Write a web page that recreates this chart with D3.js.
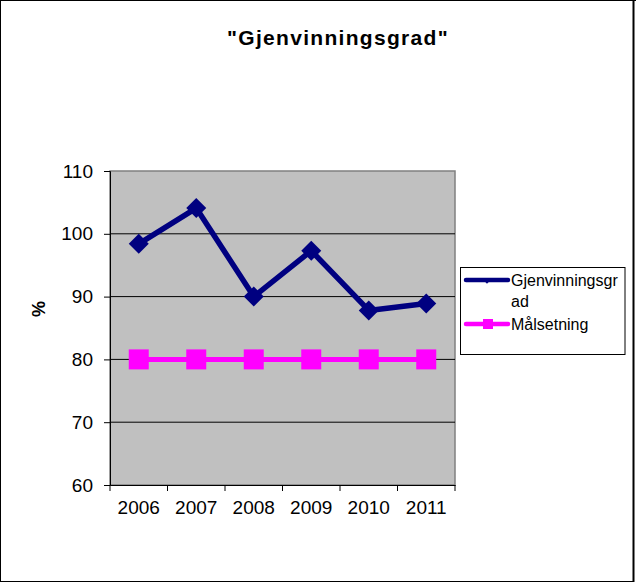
<!DOCTYPE html>
<html><head><meta charset="utf-8">
<script src="https://cdn.jsdelivr.net/npm/d3@7"></script>
<style>body{margin:0;background:#fff}svg{display:block}</style>
</head><body>
<script>
const categories = ["2006","2007","2008","2009","2010","2011"];
const gjenvinning = [98.4, 104.1, 90.0, 97.3, 87.8, 88.9];
const maal = [80, 80, 80, 80, 80, 80];
const yTicks = [60, 70, 80, 90, 100, 110];
const seriesNames = ["Gjenvinningsgrad", "Målsetning"];
const title = "\"Gjenvinningsgrad\"";
const yLabel = "%";

const W = 636, H = 582;
const font = "Arial, 'Liberation Sans', sans-serif";
const svg = d3.select("body").append("svg").attr("width", W).attr("height", H);
svg.append("rect").attr("width",W).attr("height",H).attr("fill","#fff");
// outer frame
svg.append("line").attr("x1",0).attr("x2",W).attr("y1",0.5).attr("y2",0.5).attr("stroke","#000");
svg.append("line").attr("x1",0.5).attr("x2",0.5).attr("y1",0).attr("y2",H).attr("stroke","#000");
svg.append("line").attr("x1",633.5).attr("x2",633.5).attr("y1",0).attr("y2",H).attr("stroke","#000").attr("stroke-width",2);
svg.append("line").attr("x1",0).attr("x2",634).attr("y1",581.5).attr("y2",581.5).attr("stroke","#000");

const L = 110, R = 455, T = 171, B = 485;
const x = d3.scaleBand().domain(categories).range([L, R]).padding(0);
const y = d3.scaleLinear().domain([60, 110]).range([B, T]);

svg.append("rect").attr("x", L).attr("y", T).attr("width", R-L).attr("height", B-T)
  .attr("fill", "#c0c0c0").attr("stroke", "#808080").attr("stroke-width", 1.5);

// gridlines
svg.append("g").selectAll("line").data(yTicks.filter(t => t > 60 && t < 110)).join("line")
  .attr("x1", L).attr("x2", R).attr("y1", d => y(d)).attr("y2", d => y(d))
  .attr("stroke", "#000").attr("stroke-width", 1);

// y axis
const yAxis = svg.append("g").attr("transform", `translate(${L},0)`)
  .call(d3.axisLeft(y).tickValues(yTicks).tickSize(6).tickPadding(11));
yAxis.select(".domain").attr("stroke","#000");
yAxis.selectAll("text").attr("font-family", font).attr("font-size", 19).attr("fill","#000");

// x axis
const xAxis = svg.append("g").attr("transform", `translate(0,${B})`)
  .call(d3.axisBottom(x).tickSize(0).tickPadding(16));
xAxis.select(".domain").attr("stroke","#000");
xAxis.selectAll("text").attr("font-family", font).attr("font-size", 19).attr("fill","#000");
const bounds = categories.map(c => x(c)).concat([R]);
svg.append("g").selectAll("line").data(bounds).join("line")
  .attr("x1", d => d).attr("x2", d => d).attr("y1", B).attr("y2", B+6)
  .attr("stroke", "#000");

const cx = c => x(c) + x.bandwidth()/2;
const line = d3.line().x((d,i) => cx(categories[i])).y(d => y(d));

// Target series
svg.append("path").datum(maal).attr("d", line).attr("fill","none")
  .attr("stroke","#ff00ff").attr("stroke-width",5);
svg.append("g").selectAll("rect").data(maal).join("rect")
  .attr("x", (d,i) => cx(categories[i]) - 10).attr("y", d => y(d) - 10)
  .attr("width", 20).attr("height", 20).attr("fill","#ff00ff");

// Main series
svg.append("path").datum(gjenvinning).attr("d", line).attr("fill","none")
  .attr("stroke","#000080").attr("stroke-width",5.5).attr("stroke-linejoin","round");
svg.append("g").selectAll("path").data(gjenvinning).join("path")
  .attr("d", d3.symbol().type(d3.symbolSquare).size(200))
  .attr("transform", (d,i) => `translate(${cx(categories[i])},${y(d)}) rotate(45)`)
  .attr("fill","#000080");

// title
svg.append("text").attr("x", 338).attr("y", 45).attr("text-anchor","middle")
  .attr("font-family", font).attr("font-weight","bold")
  .attr("font-size", 21).attr("letter-spacing", 1.3).text(title);

// y label
svg.append("text").attr("transform", "translate(45,309) rotate(-90)")
  .attr("text-anchor","middle")
  .attr("font-family", font).attr("font-weight","bold")
  .attr("font-size", 18).text(yLabel);

// legend
const lg = svg.append("g");
lg.append("rect").attr("x", 460.5).attr("y", 267.5).attr("width", 164.5).attr("height", 87)
  .attr("fill","#fff").attr("stroke","#000");
lg.append("line").attr("x1",466).attr("x2",508).attr("y1",280).attr("y2",280)
  .attr("stroke","#000080").attr("stroke-width",4.5).attr("stroke-linecap","round");
lg.append("path").attr("d", d3.symbol().type(d3.symbolSquare).size(14))
  .attr("transform","translate(487,281) rotate(45)").attr("fill","#000080");
lg.append("text").attr("x",511).attr("y",286).attr("font-family",font).attr("font-size",16)
  .text(seriesNames[0].slice(0,14));
lg.append("text").attr("x",511).attr("y",306.5).attr("font-family",font).attr("font-size",16)
  .text(seriesNames[0].slice(14));
lg.append("line").attr("x1",466).attr("x2",508).attr("y1",324).attr("y2",324)
  .attr("stroke","#ff00ff").attr("stroke-width",4.5).attr("stroke-linecap","round");
lg.append("rect").attr("x",483).attr("y",319).attr("width",10).attr("height",10).attr("fill","#ff00ff");
lg.append("text").attr("x",511).attr("y",330).attr("font-family",font).attr("font-size",16)
  .text(seriesNames[1]);
</script>
</body></html>
